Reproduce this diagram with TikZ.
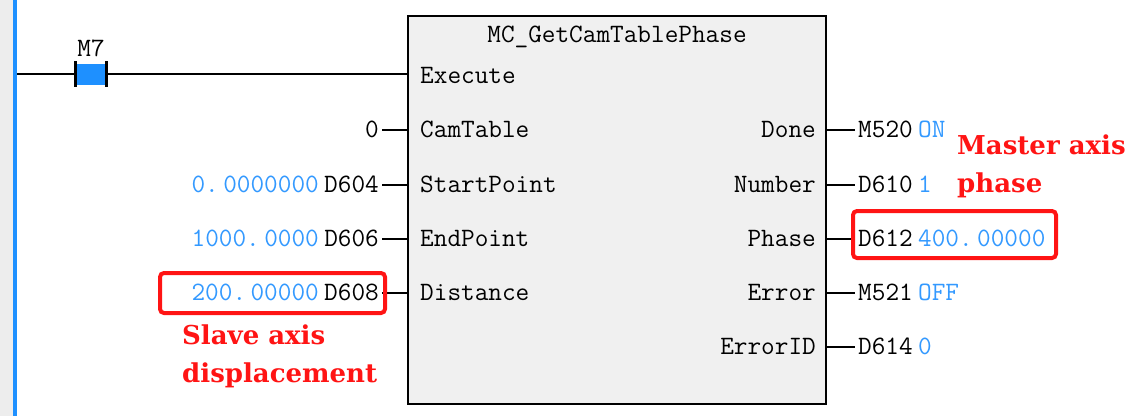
\documentclass[tikz,border=0pt]{standalone}
\usepackage{fontspec}
\newfontfamily\notefont{DejaVu Serif}
\usetikzlibrary{positioning}
\definecolor{railblue}{RGB}{30,144,255}
\definecolor{valblue}{RGB}{51,153,255}
\definecolor{fbgray}{RGB}{240,240,240}
\definecolor{notered}{RGB}{255,20,20}

\begin{document}
\begin{tikzpicture}[x=1pt, y=-1pt,
  txt/.style={font=\ttfamily\fontsize{26.5}{30}\selectfont, inner sep=1pt, text height=15pt, text depth=0pt},
  val/.style={txt, text=valblue},
  note/.style={font=\notefont\bfseries\fontsize{26}{38}\selectfont, text=notered, align=left, inner sep=0pt, anchor=north west},
  hilite/.style={draw=notered, line width=4pt, rounded corners=4pt},
  wire/.style={line width=2pt}]
  \useasboundingbox (0,0) rectangle (1130,416);
  % power rail
  \fill[black!7] (0,0) rectangle (13,416);
  \fill[railblue] (13,0) rectangle (17,416);
  \coordinate (rail) at (17,74);

  % contact M7
  \node[fill=railblue, minimum width=31, minimum height=21, inner sep=0pt] (m7) at (91,74) {};
  \draw[line width=3pt] ([yshift=2pt]m7.north west) -- ([yshift=-2pt]m7.south west);
  \draw[line width=3pt] ([yshift=2pt]m7.north east) -- ([yshift=-2pt]m7.south east);
  \node[txt, above=6pt of m7] (m7lbl) {M7};

  % function block
  \node[draw, fill=fbgray, line width=2pt, minimum width=418, minimum height=388, inner sep=0pt] (fb) at (617,210) {};
  \node[txt] (title) at (617,35) {MC\_GetCamTablePhase};
  \draw[wire] (rail) -- (m7.west);
  \draw[wire] (m7.east) -- (fb.west |- m7.east);

  % input pins
  \foreach \n/\y/\t in {exe/76/Execute, cam/130/CamTable, sp/185/StartPoint, ep/239/EndPoint, dist/293/Distance}
    \node[txt, anchor=west] (in-\n) at (419,\y) {\t};
  % output pins
  \foreach \n/\y/\t in {done/130/Done, num/185/Number, ph/239/Phase, err/293/Error, eid/347/ErrorID}
    \node[txt, anchor=east] (out-\n) at (817,\y) {\t};

  % input operands
  \node[txt, anchor=east] (op-cam) at (380,130) {0};
  \node[txt, anchor=east] (op-sp) at (380,185) {D604};
  \node[txt, anchor=east] (op-ep) at (380,239) {D606};
  \node[txt, anchor=east] (op-dist) at (380,293) {D608};
  \node[val, left=3pt of op-sp] (v-sp) {0.\,0000000};
  \node[val, left=3pt of op-ep] (v-ep) {1000.\,0000};
  \node[val, left=3pt of op-dist] (v-dist) {200.\,00000};
  \foreach \n in {cam, sp, ep, dist}
    \draw[wire] ([xshift=2pt]op-\n.east) -- (op-\n.east -| fb.west);

  % output operands
  \node[txt, anchor=west] (res-done) at (857,130) {M520};
  \node[txt, anchor=west] (res-num) at (857,185) {D610};
  \node[txt, anchor=west] (res-ph) at (857,239) {D612};
  \node[txt, anchor=west] (res-err) at (857,293) {M521};
  \node[txt, anchor=west] (res-eid) at (857,347) {D614};
  \node[val, right=3pt of res-done] (r-done) {ON};
  \node[val, right=3pt of res-num] (r-num) {1};
  \node[val, right=3pt of res-ph] (r-ph) {400.\,00000};
  \node[val, right=3pt of res-err] (r-err) {OFF};
  \node[val, right=3pt of res-eid] (r-eid) {0};
  \foreach \n in {done, num, ph, err, eid}
    \draw[wire] (fb.east |- res-\n.west) -- ([xshift=-2pt]res-\n.west);

  % annotations
  \draw[hilite] (160,273) rectangle (385,313);
  \draw[hilite] (853,211) rectangle (1056,258);
  \node[note] (slave) at (182,325) {Slave axis\\displacement};
  \node[note] (master) at (957,135) {Master axis\\phase};
\end{tikzpicture}
\end{document}
